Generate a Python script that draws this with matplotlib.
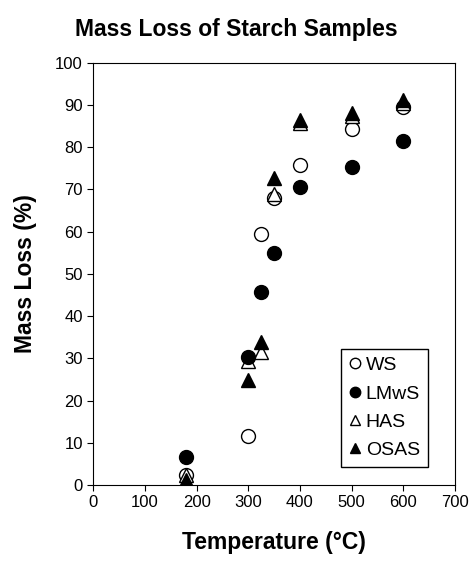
import matplotlib
matplotlib.use('Agg')
import matplotlib.pyplot as plt

plt.rcParams['font.family'] = ['Liberation Sans', 'DejaVu Sans']

temps = [180, 300, 325, 350, 400, 500, 600]
ws = [2.4, 11.6, 59.4, 68.0, 75.7, 84.3, 89.6]
lmws = [6.7, 30.3, 45.8, 55.0, 70.7, 75.4, 81.4]
has = [2.5, 29.5, 31.4, 69.0, 85.8, 87.5, 90.4]
osas = [1.2, 25.0, 33.8, 72.8, 86.5, 88.1, 91.3]

fig = plt.figure(figsize=(4.73, 5.66), dpi=100)
ax = fig.add_axes([0.197, 0.143, 0.765, 0.746])

ms = 10
ax.plot(temps, ws, 'o', ms=ms, mfc='white', mec='black', mew=1.0, label='WS', zorder=3)
ax.plot(temps, has, '^', ms=ms, mfc='white', mec='black', mew=1.0, label='HAS', zorder=3)
ax.plot(temps, lmws, 'o', ms=ms, mfc='black', mec='black', label='LMwS', zorder=4)
ax.plot(temps, osas, '^', ms=ms, mfc='black', mec='black', label='OSAS', zorder=5)

ax.set_xlim(0, 700)
ax.set_ylim(0, 100)
ax.set_xticks(range(0, 701, 100))
ax.set_yticks(range(0, 101, 10))
ax.tick_params(direction='out', length=4, labelsize=12, top=False, right=False)

ax.set_xlabel('Temperature (°C)', fontsize=16.5, fontweight='bold', labelpad=15)
ax.set_ylabel('Mass Loss (%)', fontsize=16.5, fontweight='bold', labelpad=13)
fig.suptitle('Mass Loss of Starch Samples', fontsize=16.5, fontweight='bold', y=0.968)

handles, labels = ax.get_legend_handles_labels()
order = [0, 2, 1, 3]
leg = ax.legend([handles[i] for i in order], [labels[i] for i in order],
                loc='lower right', bbox_to_anchor=(0.925, 0.043), fontsize=14,
                markerscale=0.75, handletextpad=0.2, handlelength=0.7,
                borderpad=0.4, labelspacing=0.55, borderaxespad=0,
                fancybox=False, framealpha=1)
leg.get_frame().set_edgecolor('black')
leg.get_frame().set_linewidth(1.0)

fig.savefig('out.png', dpi=100)
